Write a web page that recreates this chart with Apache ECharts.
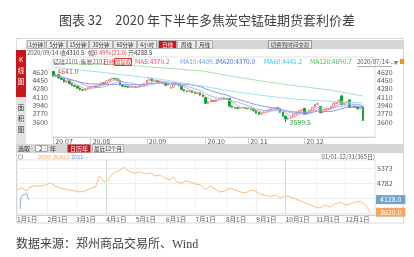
<!DOCTYPE html>
<html>
<head>
<meta charset="utf-8">
<script src="https://cdn.jsdelivr.net/npm/echarts@6.0.0/dist/echarts.min.js"></script>
</head>
<body style="margin:0;background:#fff">
<div id="main" style="width:414px;height:257px"></div>
<script>
// 锰硅2101-焦炭2101 日K (2020/07/14 起)
var kOpen = [4630,4530,4565,4500,4470,4415,4440,4380,4345,4330,
  4290,4255,4250,4270,4300,4320,4330,4310,4360,4400,
  4380,4440,4470,4490,4480,4450,4360,4330,4320,4305,
  4310,4320,4300,4330,4350,4380,4450,4490,4450,4440,
  4410,4420,4400,4350,4288.5,4310,4390,4380,4340,4260,
  4230,4220,4240,4200,4180,4200,4150,4100,3980,4010,
  4040,4020,4060,4080,4090,4080,4080,3920,3900,3890,
  3880,3900,3890,3880,3870,3870,3830,3800,3760,3790,
  3810,3840,3860,3880,3890,3870,3800,3720,3660,3680,
  3700,3760,3800,3830,3880,3760,3800,3840,3900,3960,
  3920,3790,3820,3860,3880,3920,3980,4000,4130,3960,
  3990,4050,3900,3920,3900,3870,3900];
var kClose = [4540,4560,4500,4470,4420,4440,4380,4350,4330,4290,
  4260,4250,4270,4300,4320,4330,4310,4360,4400,4380,
  4440,4470,4490,4480,4450,4360,4330,4320,4310,4310,
  4320,4300,4330,4350,4380,4450,4490,4440,4440,4420,
  4420,4400,4350,4370,4310.5,4390,4380,4340,4260,4230,
  4220,4240,4200,4180,4200,4150,4120,3980,4010,4040,
  4020,4060,4080,4090,4080,4070,3920,3900,3890,3880,
  3900,3890,3880,3870,3860,3830,3780,3760,3790,3810,
  3840,3860,3880,3890,3870,3800,3720,3660,3680,3700,
  3760,3800,3830,3850,3760,3800,3840,3900,3960,3980,
  3790,3820,3860,3880,3920,3980,4000,4050,3960,3990,
  4020,3900,3920,3900,3870,3910,3630];
var kLow = [4520,4515,4490,4455,4405,4400,4368,4335,4318,4278,
  4245,4236,4240,4260,4290,4305,4298,4302,4350,4368,
  4372,4430,4460,4465,4440,4350,4320,4310,4296,4298,
  4302,4290,4295,4322,4342,4372,4440,4430,4428,4410,
  4400,4390,4340,4345,4280,4305,4370,4330,4250,4220,
  4208,4215,4190,4170,4172,4140,4108,3965,3970,4000,
  4010,4015,4050,4072,4070,4060,3910,3888,3880,3868,
  3875,3880,3870,3860,3850,3820,3770,3745,3750,3780,
  3800,3830,3850,3870,3860,3790,3710,3599.5,3645,3665,
  3690,3750,3790,3820,3745,3750,3790,3830,3890,3950,
  3780,3780,3810,3850,3870,3910,3970,3990,3950,3950,
  3980,3890,3890,3890,3860,3860,3620];
var kHigh = [4641,4580,4575,4515,4480,4455,4450,4390,4360,4340,
  4300,4270,4282,4310,4335,4345,4340,4370,4410,4412,
  4450,4482,4505,4500,4490,4462,4370,4342,4330,4322,
  4330,4330,4340,4360,4390,4460,4505,4500,4460,4450,
  4430,4425,4405,4380,4325,4400,4400,4385,4345,4265,
  4240,4250,4245,4205,4210,4205,4160,4105,4020,4050,
  4045,4070,4090,4100,4095,4085,4090,3930,3905,3895,
  3910,3905,3895,3885,3875,3875,3835,3805,3800,3820,
  3850,3870,3890,3900,3895,3875,3805,3725,3690,3710,
  3770,3810,3840,3860,3885,3810,3850,3910,3970,3990,
  3925,3830,3870,3890,3930,3990,4010,4060,4160,4000,
  4030,4060,3930,3925,3905,3920,3905];
// MA60 / MA120 at a few candles: [candle index, value]
var ma60Pts = [[0,4720],[17,4620],[33,4520],[44,4441.2],[56,4330],[70,4200],[86,4090],[97,4040],[108,4010],[116,3990]];
var ma120Pts = [[0,4790],[25,4770],[44,4690.7],[56,4640],[66,4540],[80,4420],[92,4330],[104,4250],[116,4130]];
var kTicks = [3600,3770,3940,4110,4280,4450,4620];

// 季节性图 2020 / 2021
var seasonDays = ['01-01','01-06','01-11','01-14','01-19','01-24','01-30','02-04','02-09','02-14','02-19','02-24','02-29',
  '03-05','03-10','03-15','03-21','03-25','03-27','03-30','04-03','04-07','04-11','04-15','04-19','04-22','04-26','04-30',
  '05-06','05-11','05-16','05-21','05-26','05-31','06-05','06-08','06-12','06-17','06-21','06-26','07-01','07-06','07-11',
  '07-16','07-21','07-26','07-31','08-05','08-10','08-16','08-21','08-26','08-31','09-05','09-10','09-15','09-20','09-25',
  '09-30','10-06','10-11','10-16','10-21','10-26','10-31','11-05','11-10','11-15','11-20','11-26','12-01','12-06','12-11',
  '12-16','12-21','12-24','12-26'];
var season2020 = [4506,4585,4467,4624,4664,4664,4703,4782,4664,4585,4546,4506,4467,
  4427,4467,4546,4624,5058,4979,4821,4900,5136,5215,5294,5412,5294,5215,5176,
  5215,5136,5176,5058,5097,4979,4900,5018,4821,4782,4861,4821,4743,4703,4506,
  4664,4546,4427,4467,4585,4506,4427,4388,4506,4467,4349,4309,4230,4309,4191,
  4270,4230,4152,4073,3994,3915,3837,3797,3915,3837,3955,4034,3915,3955,4034,
  4073,3915,3758,3630];
var days2021 = ['01-04','01-05','01-06','01-07','01-08','01-11','01-12','01-13'];
var season2021 = [3760,4200,4300,4290,4330,4360,4330,4128];
var sTicks = [4782,5373];

var FONT = '"Noto Sans CJK SC", sans-serif';

// trading days of the 2101 contract window
var tradeDays = [];
var d = new Date(Date.UTC(2020, 6, 14));
while (d.getTime() <= Date.UTC(2020, 11, 31)) {
  var s = d.toISOString().slice(0, 10), wd = d.getUTCDay();
  if (wd !== 0 && wd !== 6 && !(s >= '2020-10-01' && s <= '2020-10-08')) tradeDays.push(s);
  d.setUTCDate(d.getUTCDate() + 1);
}
var kCats = tradeDays.concat(['e1', 'e2', 'e3', 'e4']);
var kData = tradeDays.map(function (t, i) { return [kOpen[i], kClose[i], kLow[i], kHigh[i]]; });

function ma(n) {
  return kClose.map(function (c, i) {
    var sl = kClose.slice(Math.max(0, i - n + 1), i + 1);
    return +(sl.reduce(function (a, b) { return a + b; }, 0) / sl.length).toFixed(1);
  });
}

var dayCats = [];
d = new Date(Date.UTC(2020, 0, 1));
while (d.getUTCFullYear() === 2020) {
  dayCats.push(d.toISOString().slice(0, 10));
  d.setUTCDate(d.getUTCDate() + 1);
}

function kMonth(i, v) {
  return i < tradeDays.length && (i === 0 || v.slice(5, 7) !== kCats[i - 1].slice(5, 7));
}
function dMonth(i, v) { return v.slice(8) === '01'; }
function plain(v) { return String(v); }

function T(x, y, text, color, size, align, font) {
  return { type: 'text', z: 20, style: { x: x, y: y, text: text, fill: color,
    font: (size || 6) + 'px ' + (font || FONT), align: align || 'left', verticalAlign: 'middle' } };
}
function R(x, y, w, h, fill, stroke, z) {
  return { type: 'rect', z: z == null ? 15 : z, shape: { x: x, y: y, width: w, height: h },
    style: { fill: fill || 'none', stroke: stroke || null, lineWidth: 1 } };
}

var g = [];
g.push(T(207, 20, '图表 32\u30002020 年下半年多焦炭空锰硅期货套利价差', '#404040', 13, 'center'));
g.push(R(16.5, 38.5, 387, 184.5, 'none', '#d8d8d8', 1));
g.push(R(26, 40, 378, 9, '#d6d6d6'));
[[27, 44, '1分钟'], [46, 66, '5分钟'], [67, 88, '15分钟'], [89, 112, '30分钟'], [113, 136, '60分钟'],
 [137, 156, '4小时'], [158, 176, '日线', 1], [177, 195, '周线'], [196, 212, '月线']].forEach(function (b) {
  g.push(R(b[0] + 0.5, 40.5, b[1] - b[0], 8, b[3] ? '#c9191e' : '#ececec', '#b0b0b0'));
  g.push(T((b[0] + b[1]) / 2 + 0.5, 44.5, b[2], b[3] ? '#fff' : '#333', 5.5, 'center'));
});
g.push(R(268.5, 40.5, 43, 8, '#e4e4e4', '#9a9a9a'));
g.push(T(290, 44.5, '切换到时间交易', '#444', 5.5, 'center'));

g.push(R(16, 50, 10, 47, '#c8161d'));
g.push(T(21, 60, 'K', '#fff', 6.5, 'center'), T(21, 71, '线', '#fff', 6.5, 'center'), T(21, 82, '图', '#fff', 6.5, 'center'));
g.push(R(16, 97, 10, 47, '#e3e3e3'));
g.push(T(21, 108, '面', '#333', 6.5, 'center'), T(21, 119, '积', '#333', 6.5, 'center'), T(21, 130, '图', '#333', 6.5, 'center'));

g.push(T(27, 53, '2020/09/14', '#555'), T(60, 53, '收:', '#555'), T(66, 53, '4310.5', '#333'),
  T(88, 53, '幅:', '#555'), T(94, 53, '0.49%(21.0)', '#e03b3b'), T(128, 53, '开:', '#555'), T(134, 53, '4288.5', '#333'));

g.push(T(53, 62, '锰硅2101-焦炭2101', '#666'), T(103, 62, '日线', '#e03b3b'));
g.push(R(114.5, 58.5, 17, 7, 'none', '#e03b3b'), T(123, 62, '前复权', '#e03b3b', 5.5, 'center'));
g.push(T(135, 62, 'MA5:4370.2', '#ec4d6d', 6.5), T(180, 62, 'MA10:4409.1', '#6f9be0', 6.5),
  T(217, 62, 'MA20:4370.0', '#4a63e0', 6.5), T(264, 62, 'MA60:4441.2', '#3ec3e6', 6.5),
  T(310, 62, 'MA120:4690.7', '#49b85a', 6.5), T(357, 62, '2020/07/14-...', '#555'));
g.push({ type: 'line', z: 20, shape: { x1: 357, y1: 66.5, x2: 392, y2: 66.5 }, style: { stroke: '#777', lineWidth: 0.6 } });
g.push(T(396, 62, '▼', '#888', 5, 'center'));
g.push(R(400.5, 59.5, 3, 4, '#f5a623', '#e08a00'));

g.push(R(16, 144, 388, 9, '#d6d6d6'));
g.push(T(18, 148.5, '选取', '#333'));
g.push(R(35.5, 145.5, 12, 6, '#fff', '#a8a8a8'), T(39, 148.5, '2', '#333'), T(45, 148.5, '÷', '#666', 5, 'center'));
g.push(T(50, 148.5, '年', '#333'));
g.push(R(67.5, 144.5, 23, 8, '#c9191e'), T(79, 148.5, '日历年', '#fff', 6, 'center'));
g.push(R(92.5, 144.5, 31, 8, '#ececec', '#b0b0b0'), T(108, 148.5, '最近12个月', '#333', 5.5, 'center'));

g.push(R(18.5, 155, 4, 4, '#f2f2f2', '#bbb'));
g.push(T(38, 157, '2020: 3630.0', '#f5a050', 5.5), T(71, 157, '2021: -', '#5a9ad0', 5.5));
g.push(T(375, 157, '01/01-12/31(365日)', '#555', 6, 'right'));

g.push(T(16, 245, '数据来源：郑州商品交易所、Wind', '#404040', 12, 'left', '"Liberation Serif", "Noto Sans CJK SC", serif'));

var axisTxt = { fontSize: 7, color: '#555', fontFamily: FONT };
var hidden = { color: 'rgba(0,0,0,0)', width: 0 };
function tag(text, bg) {
  return { show: true, position: 'end', distance: 1, formatter: text, backgroundColor: bg, opacity: 1,
    color: '#fff', fontSize: 7, fontFamily: FONT, padding: [1, 4] };
}

var option = {
  animation: false,
  backgroundColor: '#fff',
  graphic: g,
  grid: [
    { left: 52, right: 39, top: 57, height: 80, show: true, borderColor: '#e2e2e2', borderWidth: 1 },
    { left: 17, right: 39, top: 160, height: 55, show: true, borderColor: '#e2e2e2', borderWidth: 1 }
  ],
  xAxis: [
    { type: 'category', gridIndex: 0, data: kCats, boundaryGap: true,
      axisLine: { lineStyle: { color: '#cfcfcf' } },
      axisTick: { show: true, interval: kMonth, alignWithLabel: true, length: 8, lineStyle: { color: '#cfcfcf' } },
      axisLabel: Object.assign({ interval: kMonth, align: 'left', margin: 1, padding: [0, 0, 0, 2],
        formatter: function (v) { return v.slice(2, 4) + '.' + v.slice(5, 7); } }, axisTxt),
      splitLine: { show: false } },
    { type: 'category', gridIndex: 1, data: dayCats, boundaryGap: false,
      axisLine: { lineStyle: { color: '#cfcfcf' } },
      axisTick: { show: false },
      axisLabel: Object.assign({ interval: dMonth, align: 'left', margin: 1, fontSize: 6.5,
        formatter: function (v) { return parseInt(v.slice(5, 7), 10) + '月' + parseInt(v.slice(8), 10) + '日'; } },
        { color: '#555', fontFamily: FONT }),
      splitLine: { show: true, interval: dMonth, lineStyle: { color: '#f1f1f1' } } }
  ],
  yAxis: [
    { type: 'value', gridIndex: 0, position: 'left', min: 3294, max: 4926, scale: true,
      axisLine: { show: false }, axisTick: { show: false }, splitLine: { show: false },
      axisLabel: Object.assign({ customValues: kTicks, margin: 4, formatter: plain }, axisTxt) },
    { type: 'value', gridIndex: 0, position: 'right', min: 3294, max: 4926, scale: true,
      axisLine: { show: false }, axisTick: { show: false }, splitLine: { show: false },
      axisLabel: Object.assign({ customValues: kTicks, margin: 2, formatter: plain }, axisTxt) },
    { type: 'value', gridIndex: 1, position: 'right', min: 3521, max: 5688, scale: true,
      axisLine: { show: false },
      axisTick: { show: false, customValues: [3600, 4191, 4782, 5373] },
      splitLine: { show: true, lineStyle: { color: '#ececec' } },
      axisLabel: Object.assign({ customValues: sTicks, margin: 2, formatter: plain }, axisTxt) }
  ],
  series: [
    { name: 'K', type: 'candlestick', xAxisIndex: 0, yAxisIndex: 1, data: kData, barWidth: 2,
      itemStyle: { color: '#fff', color0: '#17a03a', borderColor: '#f08585', borderColor0: '#17a03a', borderWidth: 1 },
      markPoint: { symbol: 'circle', symbolSize: 0,
        label: { show: true, position: 'right', distance: 4, fontSize: 7, fontFamily: FONT,
          formatter: function (p) { return p.value.toFixed(1); } },
        data: [
          { type: 'max', valueDim: 'highest', label: { color: '#e0474c' } },
          { type: 'min', valueDim: 'lowest', label: { color: '#2e9e47' } }
        ] } },
    { name: 'MA5', type: 'line', xAxisIndex: 0, yAxisIndex: 1, data: ma(5), symbol: 'none',
      lineStyle: { color: '#f5a0ae', width: 1 }, z: 3 },
    { name: 'MA10', type: 'line', xAxisIndex: 0, yAxisIndex: 1, data: ma(10), symbol: 'none',
      lineStyle: { color: '#aab4f3', width: 1 } },
    { name: 'MA20', type: 'line', xAxisIndex: 0, yAxisIndex: 1, data: ma(20), symbol: 'none',
      lineStyle: { color: '#8b98ee', width: 1 } },
    { name: 'MA60', type: 'line', xAxisIndex: 0, yAxisIndex: 1, data: ma60Pts, symbol: 'none',
      lineStyle: { color: '#9fe2f0', width: 1 } },
    { name: 'MA120', type: 'line', xAxisIndex: 0, yAxisIndex: 1, data: ma120Pts, symbol: 'none',
      lineStyle: { color: '#a9e2aa', width: 1 } },
    { name: '2021', type: 'line', xAxisIndex: 1, yAxisIndex: 2, symbol: 'none', clip: false,
      data: days2021.map(function (t, i) { return ['2020-' + t, season2021[i]]; }),
      lineStyle: { color: '#86b6dc', width: 1 },
      markLine: { silent: true, symbol: 'none', lineStyle: hidden,
        label: tag('4128.0', '#6fa5cc'),
        data: [{ yAxis: 4128 }] } },
    { name: '2020', type: 'line', xAxisIndex: 1, yAxisIndex: 2, symbol: 'none', clip: false,
      data: seasonDays.map(function (t, i) { return ['2020-' + t, season2020[i]]; }),
      lineStyle: { color: '#f8bd85', width: 1 },
      markLine: { silent: true, symbol: 'none', lineStyle: hidden,
        label: tag('3630.0', '#f7a55e'),
        data: [
          { yAxis: 3630 },
          { xAxis: '2020-04-01', lineStyle: { color: '#cfdccf', type: 'solid', width: 1 }, label: { show: false } },
          { xAxis: '2020-10-01', lineStyle: { color: '#cfdccf', type: 'solid', width: 1 }, label: { show: false } }
        ] } }
  ]
};

var chart = echarts.init(document.getElementById('main'), null, { renderer: 'canvas' });
chart.setOption(option);
</script>
</body>
</html>
